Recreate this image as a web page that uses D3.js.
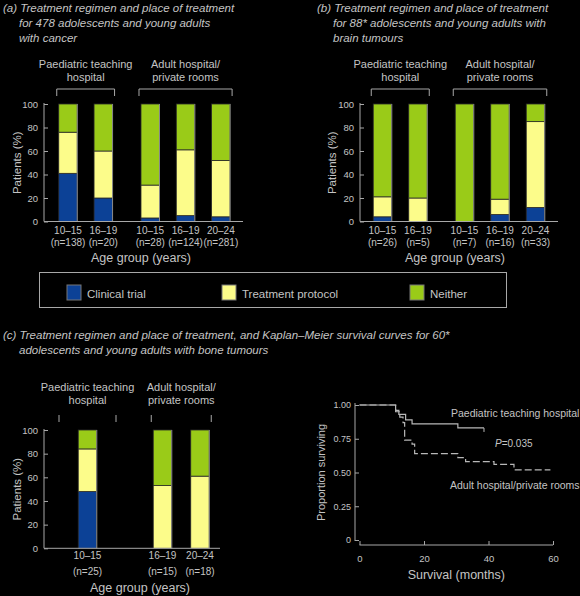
<!DOCTYPE html>
<html>
<head>
<meta charset="utf-8">
<script src="https://cdn.jsdelivr.net/npm/d3@7"></script>
<style>
  body { margin: 0; background: #000; }
  svg { display: block; font-family: "Liberation Sans", Arial, sans-serif; }
  text { fill: #c4c4c4; }
</style>
</head>
<body>
<div id="chart"></div>
<script>
// Series / categories
const segments = ["Clinical trial", "Treatment protocol", "Neither"];
const segmentColors = ["#0c4196", "#fcfc8a", "#9acb18"];
const hospitals = ["Paediatric teaching\nhospital", "Adult hospital/\nprivate rooms"];

// (a) all cancers
const groupA = [0, 0, 1, 1, 1];
const ageA = ["10–15", "16–19", "10–15", "16–19", "20–24"];
const nA = ["(n=138)", "(n=20)", "(n=28)", "(n=124)", "(n=281)"];
const clinicalA = [41, 20, 3, 5, 4];
const protocolA = [35, 40, 28, 56, 48];
const neitherA = [24, 40, 69, 39, 48];

// (b) brain tumours
const groupB = [0, 0, 1, 1, 1];
const ageB = ["10–15", "16–19", "10–15", "16–19", "20–24"];
const nB = ["(n=26)", "(n=5)", "(n=7)", "(n=16)", "(n=33)"];
const clinicalB = [4, 0, 0, 6, 12];
const protocolB = [17, 20, 0, 13, 73];
const neitherB = [79, 80, 100, 81, 15];

// (c) bone tumours
const groupC = [0, 1, 1];
const ageC = ["10–15", "16–19", "20–24"];
const nC = ["(n=25)", "(n=15)", "(n=18)"];
const clinicalC = [48, 0, 0];
const protocolC = [36, 53, 61];
const neitherC = [16, 47, 39];

const pctTicks = [0, 20, 40, 60, 80, 100];

// Kaplan-Meier curves (months, proportion surviving)
const paedTime = [0, 11.2, 12.2, 14.3, 16.3, 30.5, 38.6];
const paedSurv = [1.00, 0.96, 0.93, 0.89, 0.86, 0.83, 0.83];
const adultTime = [0, 11.2, 12.5, 13.5, 14.0, 16.3, 17.1, 30.5, 32.9, 41.7, 47.9, 59.2];
const adultSurv = [1.00, 0.95, 0.91, 0.87, 0.74, 0.71, 0.64, 0.61, 0.58, 0.56, 0.52, 0.52];
const kmYTicks = [0, 0.25, 0.5, 0.75, 1];
const kmYLabels = ["0", "0.25", "0.50", "0.75", "1.00"];
const kmXTicks = [0, 20, 40, 60];

const W = 580, H = 596;
const axisColor = "#a8a8a8";

const svg = d3.select("#chart").append("svg")
    .attr("width", W)
    .attr("height", H);

// Titles
function title(lines, x, y) {
    lines.forEach((t, i) => {
        svg.append("text")
            .attr("x", i === 0 ? x : x + 16)
            .attr("y", y + i * 15)
            .style("font-size", "11.5px")
            .style("font-style", "italic")
            .text(t);
    });
}
title(["(a) Treatment regimen and place of treatment",
       "for 478 adolescents and young adults",
       "with cancer"], 3, 12);
title(["(b) Treatment regimen and place of treatment",
       "for 88* adolescents and young adults with",
       "brain tumours"], 317, 12);
title(["(c) Treatment regimen and place of treatment, and Kaplan–Meier survival curves for 60*",
       "adolescents and young adults with bone tumours"], 3, 339);

// Stacked bar panel
function barPanel(cfg) {
    const g = svg.append("g");
    const y = d3.scaleLinear().domain([0, 100]).range([cfg.y0, cfg.y1]);
    const slots = cfg.group.map((grp, i) => i + grp * cfg.gap);
    const x = d3.scaleLinear().domain([0, 1]).range([cfg.x0, cfg.x0 + cfg.step]);
    const bw = 18.5;

    const rows = cfg.age.map((a, i) => ({
        slot: slots[i],
        vals: [cfg.clinical[i], cfg.protocol[i], cfg.neither[i]]
    }));
    const stackData = rows.map(r => {
        let acc = 0;
        return r.vals.map((v, k) => {
            const seg = { slot: r.slot, k: k, lo: acc, hi: acc + v };
            acc += v;
            return seg;
        });
    });

    const bars = g.selectAll(".bar").data(stackData).join("g").attr("class", "bar");
    bars.selectAll("rect")
        .data(d => d.filter(s => s.hi > s.lo))
        .join("rect")
        .attr("x", d => x(d.slot) - bw / 2)
        .attr("y", d => y(d.hi))
        .attr("width", bw)
        .attr("height", d => y(d.lo) - y(d.hi))
        .attr("fill", d => segmentColors[d.k])
        .attr("stroke", "#2a2a2a")
        .attr("stroke-width", 0.8);
    // light edge on right side of each bar
    bars.append("line")
        .attr("x1", d => x(d[0].slot) + bw / 2)
        .attr("x2", d => x(d[0].slot) + bw / 2)
        .attr("y1", y(100))
        .attr("y2", y(0))
        .attr("stroke", "#8a8a8a")
        .attr("stroke-width", 1);

    // y axis
    const yAxis = d3.axisLeft(y).tickValues(pctTicks).tickSize(-4).tickPadding(6);
    const ya = g.append("g")
        .attr("transform", `translate(${cfg.axisX},0)`)
        .call(yAxis);
    ya.select(".domain").attr("stroke", axisColor).attr("d", `M0,${y(100) - 1}V${y(0)}`);
    ya.selectAll(".tick line").attr("stroke", axisColor);
    ya.selectAll(".tick text").style("font-size", "9.5px").attr("fill", "#c4c4c4");

    // x axis line
    g.append("line")
        .attr("x1", cfg.axisX).attr("x2", cfg.xEnd)
        .attr("y1", y(0)).attr("y2", y(0))
        .attr("stroke", axisColor);

    // category labels
    rows.forEach((r, i) => {
        g.append("text")
            .attr("x", x(r.slot)).attr("y", cfg.labelY)
            .attr("text-anchor", "middle")
            .style("font-size", "10px")
            .text(cfg.age[i]);
        g.append("text")
            .attr("x", x(r.slot)).attr("y", cfg.labelY + cfg.labelGap)
            .attr("text-anchor", "middle")
            .style("font-size", "10px")
            .text(cfg.n[i]);
    });

    // axis titles
    g.append("text")
        .attr("x", cfg.xTitleX).attr("y", cfg.xTitleY)
        .attr("text-anchor", "middle")
        .style("font-size", "12.5px")
        .text("Age group (years)");
    g.append("text")
        .attr("transform", `translate(${cfg.yTitleX},${(y(0) + y(100)) / 2}) rotate(-90)`)
        .attr("text-anchor", "middle")
        .attr("dominant-baseline", "central")
        .style("font-size", "11.5px")
        .text("Patients (%)");

    // hospital brackets and labels
    [0, 1].forEach(h => {
        const s = rows.filter((r, i) => cfg.group[i] === h).map(r => x(r.slot));
        const lo = d3.min(s) - bw / 2 - 2, hi = d3.max(s) + bw / 2 + 2;
        const c = (lo + hi) / 2;
        const half = Math.max((hi - lo) / 2, 28.5);
        const bx0 = c - half, bx1 = c + half;
        if (cfg.bracketLine) {
            g.append("path")
                .attr("d", `M${bx0},${cfg.bracketY + 7}V${cfg.bracketY}H${bx1}V${cfg.bracketY + 7}`)
                .attr("fill", "none")
                .attr("stroke", axisColor);
        } else {
            [bx0, bx1].forEach(bx => g.append("line")
                .attr("x1", bx).attr("x2", bx)
                .attr("y1", cfg.bracketY).attr("y2", cfg.bracketY + 7)
                .attr("stroke", axisColor));
        }
        hospitals[h].split("\n").forEach((t, k) => {
            g.append("text")
                .attr("x", c).attr("y", cfg.hospY + k * 12.5)
                .attr("text-anchor", "middle")
                .style("font-size", "11px")
                .text(t);
        });
    });
}

barPanel({
    group: groupA, age: ageA, n: nA,
    clinical: clinicalA, protocol: protocolA, neither: neitherA,
    y0: 221.5, y1: 104, x0: 68, step: 35.3, gap: 0.33,
    axisX: 44, xEnd: 243, labelY: 234, labelGap: 12,
    xTitleX: 141, xTitleY: 262, yTitleX: 17,
    bracketY: 89, bracketLine: true, hospY: 68
});

barPanel({
    group: groupB, age: ageB, n: nB,
    clinical: clinicalB, protocol: protocolB, neither: neitherB,
    y0: 221.5, y1: 104, x0: 382.5, step: 35.5, gap: 0.31,
    axisX: 360, xEnd: 558, labelY: 234, labelGap: 12,
    xTitleX: 455, xTitleY: 262, yTitleX: 332,
    bracketY: 89, bracketLine: true, hospY: 68
});

barPanel({
    group: groupC, age: ageC, n: nC,
    clinical: clinicalC, protocol: protocolC, neither: neitherC,
    y0: 548.3, y1: 430, x0: 87.5, step: 37.5, gap: 1,
    axisX: 44, xEnd: 220, labelY: 559, labelGap: 16,
    xTitleX: 140, xTitleY: 592, yTitleX: 17,
    bracketY: 415, bracketLine: false, hospY: 391
});

// Legend
const legend = svg.append("g");
legend.append("rect")
    .attr("x", 39.5).attr("y", 272.5)
    .attr("width", 467).attr("height", 35)
    .attr("fill", "none")
    .attr("stroke", axisColor);
const legendX = d3.scaleOrdinal().domain(segments).range([67, 222, 410]);
segments.forEach((s, i) => {
    legend.append("rect")
        .attr("x", legendX(s)).attr("y", 285)
        .attr("width", 14).attr("height", 15)
        .attr("fill", segmentColors[i])
        .attr("stroke", "#777");
    legend.append("text")
        .attr("x", legendX(s) + 20).attr("y", 298)
        .style("font-size", "11.5px")
        .text(s);
});

// Kaplan-Meier plot
const km = svg.append("g");
const kx = d3.scaleLinear().domain([0, 60]).range([359.5, 553]);
const ky = d3.scaleLinear().domain([0, 1]).range([540, 405]);

const kmYAxis = d3.axisLeft(ky).tickValues(kmYTicks).tickFormat((d, i) => kmYLabels[i]).tickSize(-4).tickPadding(4);
const kya = km.append("g").attr("transform", "translate(355,0)").call(kmYAxis);
kya.select(".domain").attr("stroke", axisColor).attr("d", `M0,${ky(1) - 2}V${ky(0) + 1}`);
kya.selectAll(".tick line").attr("stroke", axisColor);
kya.selectAll(".tick text").style("font-size", "9px").attr("fill", "#c4c4c4");

const kmXAxis = d3.axisBottom(kx).tickValues(kmXTicks).tickSize(-4).tickPadding(10);
const kxa = km.append("g").attr("transform", "translate(0,545)").call(kmXAxis);
kxa.select(".domain").attr("stroke", axisColor).attr("d", `M${kx(0)},0H${kx(60)}`);
kxa.selectAll(".tick line").attr("stroke", axisColor);
kxa.selectAll(".tick text").style("font-size", "9.5px").attr("fill", "#c4c4c4");

const step = d3.line().curve(d3.curveStepAfter).x(d => kx(d[0])).y(d => ky(d[1]));
km.append("path")
    .attr("d", step(d3.zip(paedTime, paedSurv)))
    .attr("fill", "none")
    .attr("stroke", "#b8b8b8")
    .attr("stroke-width", 1.2);
km.append("path")
    .attr("d", step(d3.zip(adultTime, adultSurv)))
    .attr("fill", "none")
    .attr("stroke", "#b8b8b8")
    .attr("stroke-width", 1.2)
    .attr("stroke-dasharray", "7,3");
// censor tick at end of paediatric curve
km.append("line")
    .attr("x1", kx(paedTime[paedTime.length - 1])).attr("x2", kx(paedTime[paedTime.length - 1]))
    .attr("y1", ky(paedSurv[paedSurv.length - 1])).attr("y2", ky(paedSurv[paedSurv.length - 1]) + 4)
    .attr("stroke", "#b8b8b8");

km.append("text").attr("x", 451).attr("y", 417).style("font-size", "10.5px").text("Paediatric teaching hospital");
const pt = km.append("text").attr("x", 495).attr("y", 447).style("font-size", "10px");
pt.append("tspan").style("font-style", "italic").text("P");
pt.append("tspan").text("=0.035");
km.append("text").attr("x", 450).attr("y", 489).style("font-size", "10.5px").text("Adult hospital/private rooms");

km.append("text")
    .attr("x", kx(30)).attr("y", 579)
    .attr("text-anchor", "middle")
    .style("font-size", "12.5px")
    .text("Survival (months)");
km.append("text")
    .attr("transform", `translate(321,${(ky(0) + ky(1)) / 2}) rotate(-90)`)
    .attr("text-anchor", "middle")
    .attr("dominant-baseline", "central")
    .style("font-size", "11px")
    .text("Proportion surviving");
</script>
</body>
</html>
